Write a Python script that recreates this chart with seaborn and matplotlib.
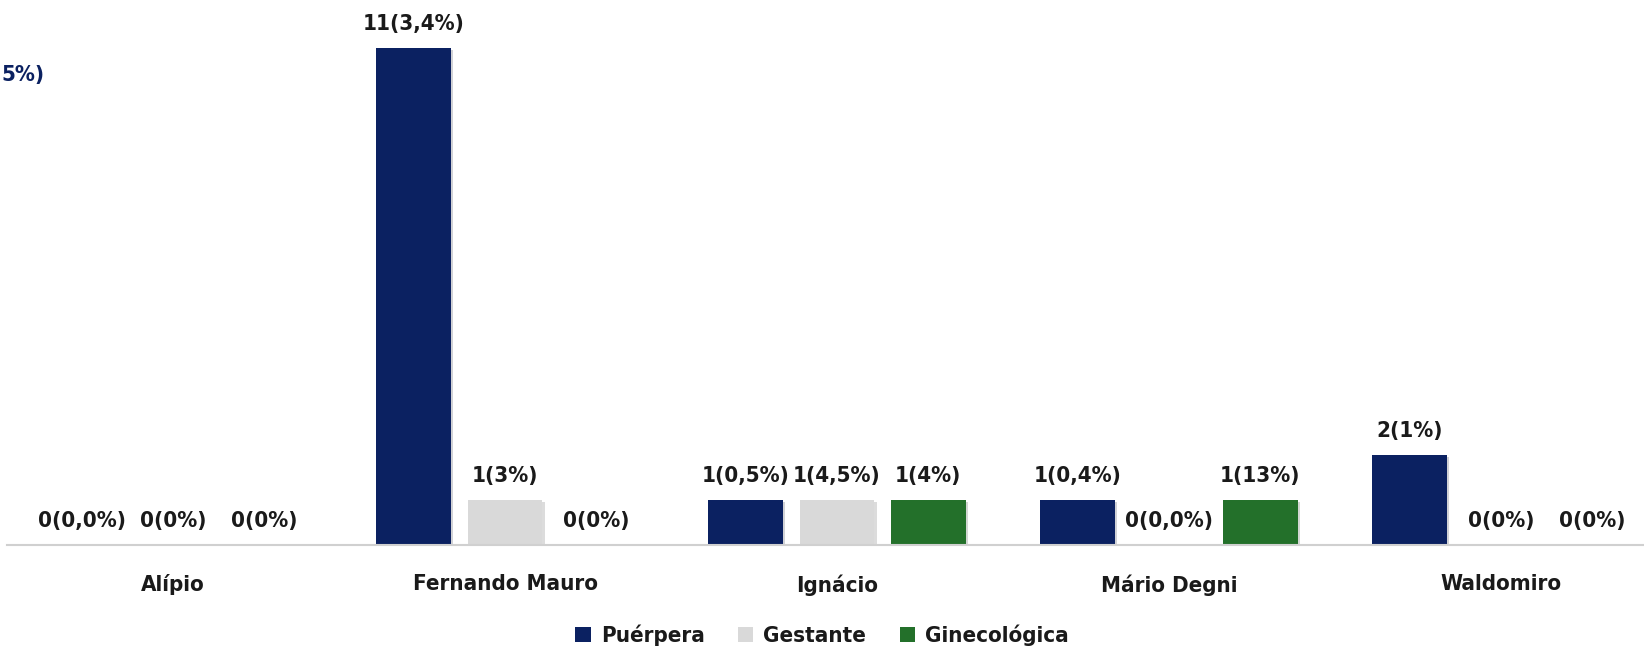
import matplotlib
matplotlib.use("Agg")
import matplotlib.pyplot as plt
import matplotlib.patheffects as pe
from matplotlib.patches import Patch
import seaborn as sns
import pandas as pd

categories = ["Alípio", "Fernando Mauro", "Ignácio", "Mário Degni", "Waldomiro"]
series = ["Puérpera", "Gestante", "Ginecológica"]
puerpera = [0, 11, 1, 1, 2]
gestante = [0, 1, 1, 0, 0]
ginecologica = [0, 0, 1, 1, 0]
labels_puerpera = ["0(0,0%)", "11(3,4%)", "1(0,5%)", "1(0,4%)", "2(1%)"]
labels_gestante = ["0(0%)", "1(3%)", "1(4,5%)", "0(0,0%)", "0(0%)"]
labels_ginecologica = ["0(0%)", "0(0%)", "1(4%)", "1(13%)", "0(0%)"]
colors = ["#0b2161", "#d9d9d9", "#23702a"]

sns.set_theme(style="white")
plt.rcParams["font.family"] = ["DejaVu Sans"]
plt.rcParams["font.stretch"] = "condensed"

FS_LAB = 16
FS_AX = 16

rows = []
for s, vals in zip(series, [puerpera, gestante, ginecologica]):
    for c, v in zip(categories, vals):
        rows.append({"Unidade": c, "Tipo": s, "Valor": v})
df = pd.DataFrame(rows)

fig = plt.figure(figsize=(16.44, 6.50), dpi=100)
ax = fig.add_axes([0.0043, 0.1615, 1.0097, 0.834])

sns.barplot(data=df, x="Unidade", y="Valor", hue="Tipo", order=categories,
            hue_order=series, palette=colors, width=0.825, gap=0.18,
            saturation=1, ax=ax, legend=False, edgecolor="none")

for patch in ax.patches:
    patch.set_path_effects([pe.SimplePatchShadow(offset=(1.5, -1.5), alpha=0.18), pe.Normal()])

for cont, labs in zip(ax.containers, [labels_puerpera, labels_gestante, labels_ginecologica]):
    ax.bar_label(cont, labels=labs, padding=10, fontsize=FS_LAB, fontweight="bold",
                 fontstretch="condensed", color="#1a1a1a")

ax.set_xlim(-0.5, 4.5)
ax.set_ylim(0, 12)
ax.set_xlabel("")
ax.set_ylabel("")
ax.set_yticks([])
ax.tick_params(axis="x", length=0, pad=21)
for lab in ax.get_xticklabels():
    lab.set_fontsize(FS_AX)
    lab.set_fontweight("bold")
    lab.set_fontstretch("condensed")
    lab.set_color("#1a1a1a")
for side in ["top", "right", "left"]:
    ax.spines[side].set_visible(False)
ax.spines["bottom"].set_color("#d0d0d0")
ax.spines["bottom"].set_linewidth(1.5)

handles = [Patch(facecolor=c, edgecolor="none", label=s) for c, s in zip(colors, series)]
leg = fig.legend(handles=handles, loc="center", bbox_to_anchor=(0.5, 0.022), ncol=3,
                 frameon=False, handlelength=0.7, handleheight=0.7, handletextpad=0.45,
                 columnspacing=1.5,
                 prop={"size": FS_AX, "weight": "bold", "stretch": "condensed"})
for t in leg.get_texts():
    t.set_color("#1a1a1a")

# fragment of a neighbouring label visible at the left edge
fig.text(0.001, 0.885, "5%)", fontsize=FS_LAB, fontweight="bold", fontstretch="condensed",
         color="#0b2161", ha="left", va="center")

fig.savefig("out.png", dpi=100)
